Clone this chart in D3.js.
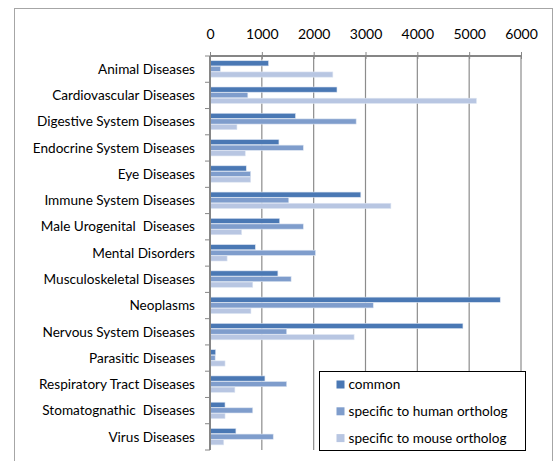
<!DOCTYPE html>
<html>
<head>
<meta charset="utf-8">
<script src="https://cdn.jsdelivr.net/npm/d3@7"></script>
<style>
  body { margin: 0; background: #fff; }
  text { font-family: Lato, "Open Sans", sans-serif; fill: #000; }
</style>
</head>
<body>
<div class="canvas"></div>
<script>
// ---- DATA --- //
const categories = [
    'Animal Diseases', 'Cardiovascular Diseases', 'Digestive System Diseases',
    'Endocrine System Diseases', 'Eye Diseases', 'Immune System Diseases',
    'Male Urogenital  Diseases', 'Mental Disorders', 'Musculoskeletal Diseases',
    'Neoplasms', 'Nervous System Diseases', 'Parasitic Diseases',
    'Respiratory Tract Diseases', 'Stomatognathic  Diseases', 'Virus Diseases'
];
const seriesNames = ['common', 'specific to human ortholog', 'specific to mouse ortholog'];
const common = [1130, 2450, 1650, 1330, 700, 2910, 1345, 875, 1310, 5600, 4880, 110, 1060, 290, 500];
const human = [200, 730, 2820, 1800, 785, 1520, 1800, 2035, 1565, 3150, 1480, 100, 1480, 825, 1220];
const mouse = [2370, 5140, 520, 680, 785, 3490, 610, 330, 825, 790, 2780, 290, 480, 290, 265];
const xTicks = [0, 1000, 2000, 3000, 4000, 5000, 6000];
const colors = ['#4a78b4', '#7f9dcc', '#b8c6e2'];

// ---- SETUP --- //
const width = 554, height = 461;
const margin = { top: 56, right: 33, bottom: 11, left: 210 };
const graphWidth = width - margin.left - margin.right;
const graphHeight = height - margin.top - margin.bottom;

const svg = d3.select('.canvas')
    .append('svg')
    .attr('width', width)
    .attr('height', height);

// outer chart border
svg.append('rect')
    .attr('x', 14.5).attr('y', 8.5)
    .attr('width', 538).attr('height', 470)
    .attr('fill', 'none').attr('stroke', '#a6a6a6');

const graph = svg.append('g')
    .attr('transform', `translate(${margin.left},${margin.top})`);

// ---- SCALES --- //
const x = d3.scaleLinear().domain([0, 6000]).range([0, graphWidth]);
const y = d3.scaleBand().domain(categories).range([0, graphHeight]).paddingInner(0).paddingOuter(0);
const inner = d3.scaleBand().domain([0, 1, 2]).range([y.bandwidth() * 0.18, y.bandwidth() * 0.82]);

// gridlines
graph.append('g')
    .selectAll('line')
    .data(xTicks.slice(1))
    .join('line')
    .attr('x1', d => x(d)).attr('x2', d => x(d))
    .attr('y1', 0).attr('y2', graphHeight)
    .attr('stroke', '#8c8c8c').attr('stroke-width', 1.2);

// ---- BARS --- //
const series = [common, human, mouse];
series.forEach((vals, i) => {
    graph.append('g')
        .selectAll('rect')
        .data(vals)
        .join('rect')
        .attr('x', 0)
        .attr('y', (d, j) => y(categories[j]) + inner(i))
        .attr('width', d => x(d))
        .attr('height', inner.bandwidth() - 0.4)
        .attr('fill', colors[i])
        .attr('stroke', '#dde5f2').attr('stroke-width', 0.6);
});

// ---- AXES --- //
const xAxis = d3.axisTop(x).tickValues(xTicks).tickFormat(d3.format('d')).tickSize(4).tickPadding(12);
const xAxisGroup = graph.append('g').call(xAxis);
xAxisGroup.select('.domain').attr('stroke', '#868686').attr('stroke-width', 2).attr('d', `M0,0H${graphWidth}`);
xAxisGroup.selectAll('.tick line').attr('stroke', '#868686').attr('y2', -4).attr('y1', 3);
xAxisGroup.selectAll('text').style('font-size', '14px').attr('font-family', null).attr('dy', '-0.1em');

const yAxisGroup = graph.append('g');
yAxisGroup.append('line')
    .attr('x1', 0).attr('x2', 0).attr('y1', 0).attr('y2', graphHeight)
    .attr('stroke', '#868686').attr('stroke-width', 2);
yAxisGroup.selectAll('.ytick')
    .data(d3.range(categories.length + 1))
    .join('line')
    .attr('x1', -5).attr('x2', 0)
    .attr('y1', d => d * y.step()).attr('y2', d => d * y.step())
    .attr('stroke', '#868686');
yAxisGroup.selectAll('.ylabel')
    .data(categories)
    .join('text')
    .attr('x', -15)
    .attr('y', d => y(d) + y.bandwidth() / 2)
    .attr('dy', '0.35em')
    .attr('text-anchor', 'end')
    .style('font-size', '13.6px')
    .style('white-space', 'pre')
    .text(d => d);

// ---- LEGEND --- //
const legend = svg.append('g').attr('transform', 'translate(319.5,371.5)');
legend.append('rect')
    .attr('width', 206).attr('height', 79)
    .attr('fill', '#fff').attr('stroke', '#000');
const legendItems = legend.selectAll('g')
    .data(seriesNames)
    .join('g')
    .attr('transform', (d, i) => `translate(17,${13 + i * 26.8})`);
legendItems.append('rect')
    .attr('width', 8).attr('height', 8).attr('y', -4)
    .attr('fill', (d, i) => colors[i]);
legendItems.append('text')
    .attr('x', 12).attr('dy', '0.35em')
    .style('font-size', '13.6px')
    .text(d => d);
</script>
</body>
</html>
